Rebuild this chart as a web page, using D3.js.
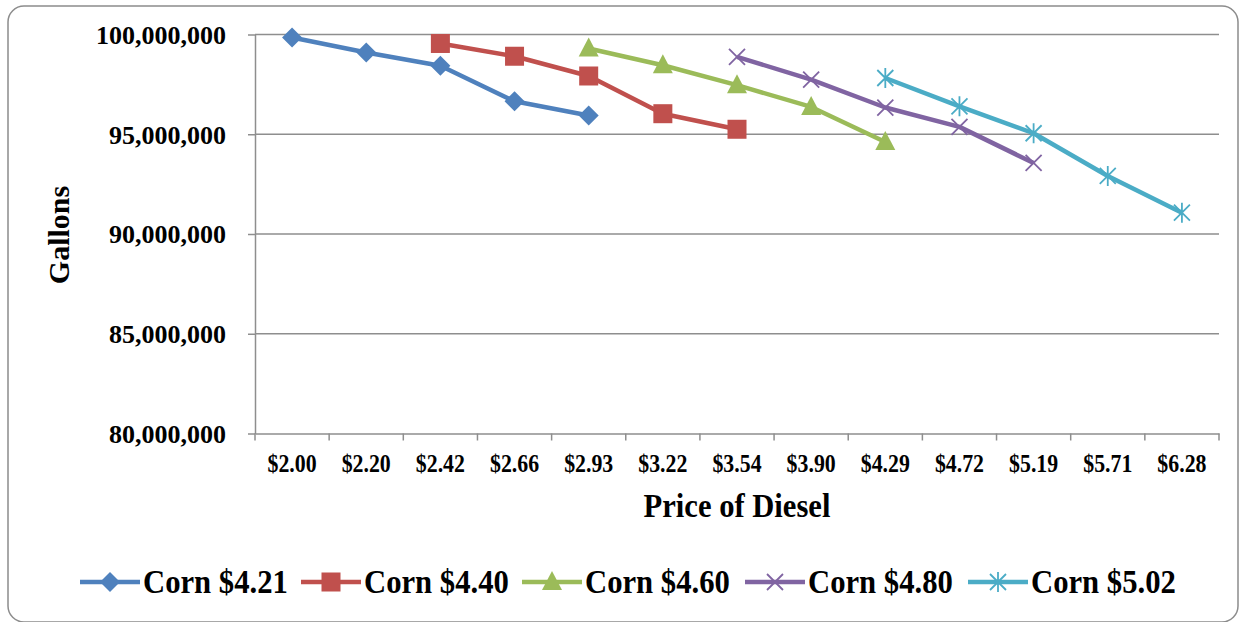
<!DOCTYPE html>
<html><head><meta charset="utf-8">
<script src="https://cdn.jsdelivr.net/npm/d3@7"></script>
<style>body{margin:0;background:#fff}svg{display:block}text{font-family:"Liberation Serif","Times New Roman",serif;font-weight:bold;fill:#000}</style>
</head><body><svg id="c" width="1244" height="622"></svg>
<script>
const categories = ["$2.00","$2.20","$2.42","$2.66","$2.93","$3.22","$3.54","$3.90","$4.29","$4.72","$5.19","$5.71","$6.28"];
const seriesNames = ["Corn $4.21","Corn $4.40","Corn $4.60","Corn $4.80","Corn $5.02"];
const corn421 = [["$2.00",99850000],["$2.20",99100000],["$2.42",98430000],["$2.66",96650000],["$2.93",95940000]];
const corn440 = [["$2.42",99550000],["$2.66",98910000],["$2.93",97920000],["$3.22",96030000],["$3.54",95250000]];
const corn460 = [["$2.93",99300000],["$3.22",98460000],["$3.54",97460000],["$3.90",96370000],["$4.29",94610000]];
const corn480 = [["$3.54",98880000],["$3.90",97740000],["$4.29",96340000],["$4.72",95370000],["$5.19",93560000]];
const corn502 = [["$4.29",97820000],["$4.72",96400000],["$5.19",95050000],["$5.71",92910000],["$6.28",91070000]];
const yTicks = [80000000,85000000,90000000,95000000,100000000];

const seriesData = [corn421,corn440,corn460,corn480,corn502];
const colors = ["#4F81BD","#C0504D","#9BBB59","#8064A2","#4BACC6"];
const markers = ["diamond","square","triangle","x","star"];

const svg = d3.select("#c");
svg.append("rect").attr("x",8).attr("y",6).attr("width",1230).attr("height",616).attr("rx",16)
  .attr("fill","#fff").attr("stroke","#8c8c8c").attr("stroke-width",1.5);

const L=255,R=1219,T=34.5,B=433.5;
const x = d3.scaleBand().domain(categories).range([L,R]);
const y = d3.scaleLinear().domain([80000000,100000000]).range([B,T]);
const fmt = d3.format(",");

svg.append("g").selectAll("line").data(yTicks.filter(v=>v>80000000)).join("line")
  .attr("x1",L).attr("x2",R).attr("y1",d=>y(d)).attr("y2",d=>y(d))
  .attr("stroke","#8e8e8e").attr("stroke-width",1.5);

const ya = svg.append("g").attr("transform",`translate(${L},0)`)
  .call(d3.axisLeft(y).tickValues(yTicks).tickFormat(fmt).tickSizeOuter(0).tickSizeInner(7).tickPadding(22));
ya.select(".domain").attr("stroke","#8e8e8e").attr("stroke-width",1.5);
ya.selectAll(".tick line").attr("stroke","#8e8e8e").attr("stroke-width",1.5);
ya.selectAll(".tick text").attr("font-size","26px").attr("font-family","Liberation Serif").attr("font-weight","bold").attr("fill","#000").attr("dy","0.34em");

const xa = svg.append("g").attr("transform",`translate(0,${B})`)
  .call(d3.axisBottom(x).tickSize(0).tickPadding(20));
xa.select(".domain").attr("stroke","#8e8e8e").attr("stroke-width",1.5);
xa.selectAll(".tick text").attr("font-size","26px").attr("font-family","Liberation Serif").attr("font-weight","bold").attr("fill","#000")
  .attr("transform","scale(0.84,1)");
const bounds = categories.map(c=>x(c)).concat([R]);
svg.append("g").selectAll("line").data(bounds).join("line")
  .attr("x1",d=>d).attr("x2",d=>d).attr("y1",B).attr("y2",B+7)
  .attr("stroke","#8e8e8e").attr("stroke-width",1.5);

svg.append("text").attr("transform","translate(737,517) scale(0.9,1)").attr("text-anchor","middle").attr("font-size","34px").text("Price of Diesel");
svg.append("text").attr("transform","translate(69,235) rotate(-90)").attr("text-anchor","middle").attr("font-size","30px").text("Gallons");

function drawMarker(g, type, color, cx, cy){
  if(type==="diamond"){
    g.append("path").attr("d",`M${cx},${cy-10}L${cx+10},${cy}L${cx},${cy+10}L${cx-10},${cy}Z`).attr("fill",color);
  } else if(type==="square"){
    g.append("rect").attr("x",cx-9.5).attr("y",cy-9.5).attr("width",19).attr("height",19).attr("fill",color);
  } else if(type==="triangle"){
    g.append("path").attr("d",`M${cx},${cy-11}L${cx+10},${cy+8}L${cx-10},${cy+8}Z`).attr("fill",color);
  } else if(type==="x"){
    g.append("path").attr("d",`M${cx-8},${cy-8}L${cx+8},${cy+8}M${cx+8},${cy-8}L${cx-8},${cy+8}`).attr("stroke",color).attr("stroke-width",1.8);
  } else if(type==="star"){
    g.append("path").attr("d",`M${cx-8},${cy-8}L${cx+8},${cy+8}M${cx+8},${cy-8}L${cx-8},${cy+8}M${cx},${cy-10}L${cx},${cy+10}`).attr("stroke",color).attr("stroke-width",1.8);
  }
}

const line = d3.line().x(d=>x(d[0])+x.bandwidth()/2).y(d=>y(d[1]));
seriesData.forEach((s,i)=>{
  const g = svg.append("g");
  g.append("path").datum(s).attr("d",line).attr("fill","none").attr("stroke",colors[i]).attr("stroke-width",4.5).attr("stroke-linejoin","round");
  s.forEach(d=>drawMarker(g,markers[i],colors[i],x(d[0])+x.bandwidth()/2,y(d[1])));
});

const legX = [80,301,522,745,968];
seriesNames.forEach((n,i)=>{
  const g = svg.append("g");
  const lx = legX[i], ly = 582;
  g.append("line").attr("x1",lx).attr("x2",lx+60).attr("y1",ly).attr("y2",ly).attr("stroke",colors[i]).attr("stroke-width",4.5);
  drawMarker(g,markers[i],colors[i],lx+30,ly);
  g.append("text").attr("transform",`translate(${lx+63},${ly+11}) scale(0.93,1)`).attr("font-size","33px").text(n);
});
</script></body></html>
